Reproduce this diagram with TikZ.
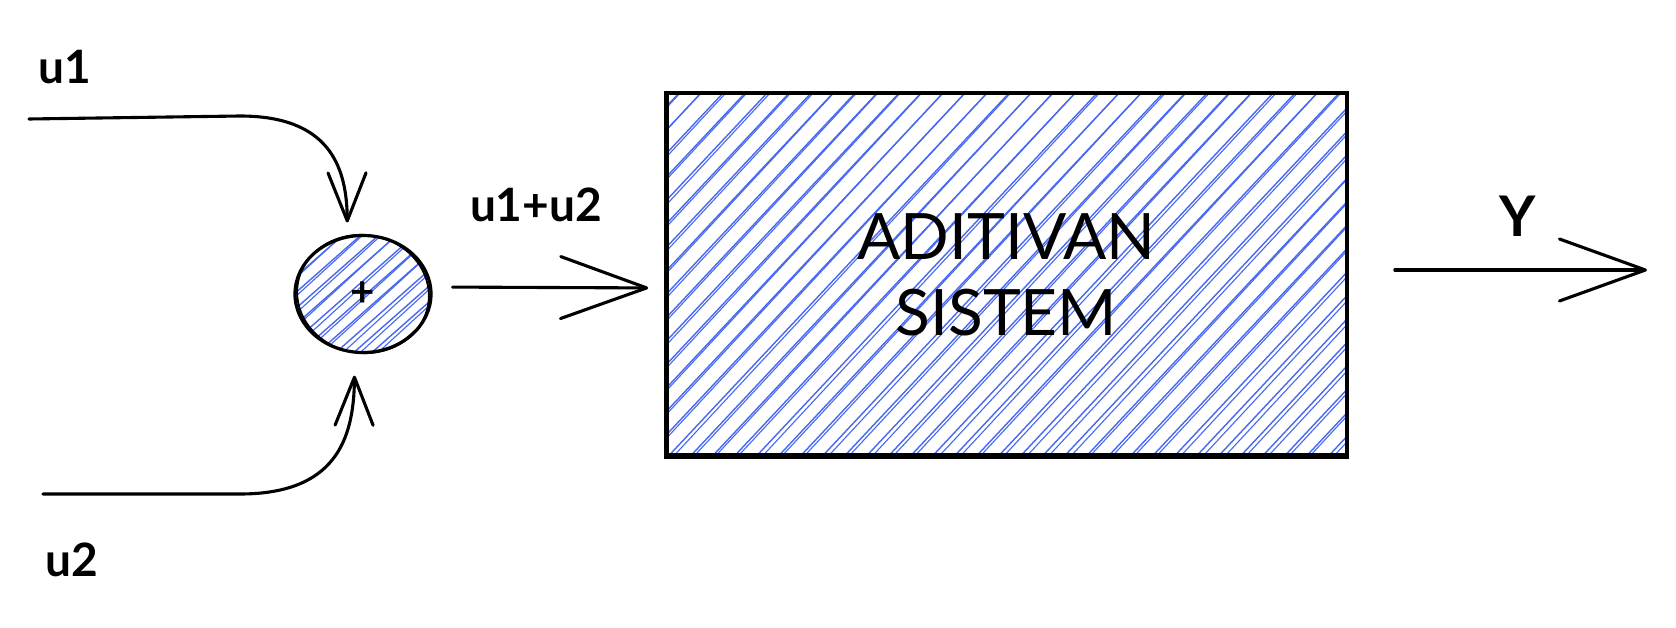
\documentclass[tikz,border=0pt]{standalone}
\usepackage{fontspec}
\setmainfont{Lato}
\usetikzlibrary{arrows.meta,shapes.geometric}
\definecolor{hatchblue}{RGB}{72,104,240}
\tikzset{
  ink/.style={draw=black, line width=3.1pt, line cap=round, line join=round},
  sigtext/.style={font=\fontsize{46}{54}\selectfont\bfseries, inner sep=0pt, anchor=base},
  hatchline/.style={draw=hatchblue, line width=1.4pt, line cap=round},
  bigbarb/.style={-{Straight Barb[length=86pt,width=62pt,round]}},
  smallbarb/.style={-{Straight Barb[length=48pt,width=38pt,round]}},
}
\begin{document}
\begin{tikzpicture}[x=1pt,y=-1pt]
\pgfmathsetseed{7}
\useasboundingbox (0,0) rectangle (1676,628);
\fill[white] (0,0) rectangle (1676,628);

% diagonal hachure of the system block
\begin{scope}
  \clip (665,92) rectangle (1348,458);
  \foreach \i in {250,272,...,1370}{
    \pgfmathsetmacro{\d}{3+4*rnd}
    \draw[hatchline] (\i,480) -- ++(380,-405);
    \draw[hatchline, line width=1.1pt] (\i+\d,480) -- ++(376,-405);
  }
\end{scope}

% diagonal hachure of the summing junction
\begin{scope}
  \clip (363,294) ellipse [x radius=68pt, y radius=58.5pt];
  \foreach \i in {190,208,...,450}{
    \pgfmathsetmacro{\d}{2+4*rnd}
    \draw[hatchline] (\i,370) -- ++(170,-150);
    \draw[hatchline, line width=1.1pt] (\i+\d,372) -- ++(164,-150);
  }
\end{scope}

% system block
\node[draw, line width=3.6pt, minimum width=681pt, minimum height=364pt,
      inner sep=0pt, align=center, font=\fontsize{64}{76}\selectfont]
      (sys) at (1006.5,275) {ADITIVAN\\SISTEM};
\draw[line width=1.4pt] ([shift={(4pt,-3pt)}]sys.north west) rectangle ([shift={(-2pt,5pt)}]sys.south east);

% summing junction
\node[ellipse, draw, line width=3.2pt, minimum width=136pt, minimum height=117pt,
      inner sep=0pt, font=\fontsize{42}{42}\selectfont\bfseries]
      (sum) at (363,294) {+};
\draw[line width=1.8pt] (sum.center) ellipse [x radius=66pt, y radius=59pt, rotate=-8];

% signal labels
\node[sigtext] (lu1) at (65,84) {u1};
\node[sigtext] (lu2) at (72,576) {u2};
\node[sigtext] (lsum) at (536,222) {u1+u2};
\node[sigtext, font=\fontsize{56}{60}\selectfont\bfseries] (ly) at (1518,237) {Y};

% free ends of the signal lines
\coordinate (in1) at (29,119);
\coordinate (in2) at (43,494);
\coordinate (yend) at (1647,270);

% connectors
\draw[ink, smallbarb, shorten >=13pt] (in1) -- (240,116)
  .. controls (328,116) and (347,165) .. (sum.105);
\draw[ink, smallbarb, shorten >=22pt] (in2) -- (240,494)
  .. controls (335,494) and (354,440) .. (sum.262);
\draw[ink, bigbarb, shorten <=20pt, shorten >=16pt] ([yshift=7pt]sum.east) -- ([yshift=-13pt]sys.west);
\draw[ink, bigbarb, shorten <=46pt] ([yshift=5pt]sys.east) -- (yend);
\end{tikzpicture}
\end{document}
